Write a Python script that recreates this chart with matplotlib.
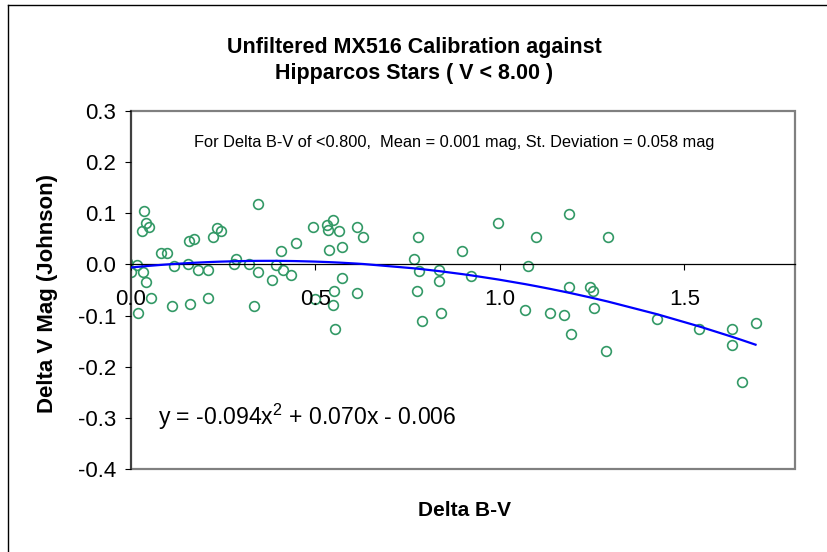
import numpy as np
import matplotlib
matplotlib.use("Agg")
import matplotlib.pyplot as plt
from matplotlib.patches import Rectangle
from matplotlib.lines import Line2D

plt.rcParams['font.family'] = ['Liberation Sans', 'DejaVu Sans']
plt.rcParams['axes.unicode_minus'] = False
plt.rcParams['mathtext.fontset'] = 'custom'
plt.rcParams['mathtext.rm'] = 'Liberation Sans'
plt.rcParams['mathtext.default'] = 'regular'

# Delta B-V (x) and Delta V (y) for each star
delta_bv = [-0.010, 0.000, 0.015, 0.033, 0.041, 0.035, 0.029, 0.041, 0.049, 0.080,
            0.097, 0.117, 0.157, 0.171, 0.154, 0.182, 0.208, 0.223, 0.232, 0.244,
            0.279, 0.285, 0.321, 0.343, 0.344, 0.382, 0.392, 0.407, 0.413, 0.435,
            0.446, 0.493, 0.532, 0.534, 0.548, 0.563, 0.536, 0.571, 0.573, 0.549,
            0.054, 0.020, 0.111, 0.159, 0.208, 0.333, 0.500, 0.548, 0.554, 0.612,
            0.774, 0.834, 0.790, 0.840, 0.613, 0.630, 0.779, 0.766, 0.780, 0.835,
            0.898, 0.922, 0.996, 1.099, 1.077, 1.186, 1.186, 1.293, 1.244, 1.253,
            1.067, 1.135, 1.173, 1.192, 1.255, 1.288, 1.427, 1.541, 1.629, 1.629,
            1.655, 1.693]
delta_v = [0.005, -0.015, -0.002, -0.014, -0.034, 0.105, 0.066, 0.081, 0.073, 0.022,
           0.022, -0.004, 0.046, 0.050, 0.000, -0.010, -0.010, 0.054, 0.071, 0.066,
           0.000, 0.011, 0.001, -0.015, 0.118, -0.030, -0.002, 0.026, -0.010, -0.021,
           0.041, 0.073, 0.077, 0.067, 0.086, 0.066, 0.029, 0.034, -0.026, -0.051,
           -0.065, -0.094, -0.081, -0.078, -0.065, -0.081, -0.067, -0.079, -0.126, -0.055,
           -0.051, -0.033, -0.110, -0.094, 0.073, 0.054, 0.054, 0.010, -0.012, -0.010,
           0.026, -0.022, 0.081, 0.054, -0.003, 0.098, -0.045, 0.054, -0.045, -0.051,
           -0.090, -0.094, -0.098, -0.137, -0.086, -0.169, -0.106, -0.126, -0.126, -0.157,
           -0.230, -0.114]

# quadratic trendline coefficients as printed on the chart
trend_coef = [-0.094, 0.070, -0.006]

xticks = [0.0, 0.5, 1.0, 1.5]
xticklabels = ['0.0', '0.5', '1.0', '1.5']
yticks = [-0.4, -0.3, -0.2, -0.1, 0.0, 0.1, 0.2, 0.3]
yticklabels = ['-0.4', '-0.3', '-0.2', '-0.1', '0.0', '0.1', '0.2', '0.3']

x = np.array(delta_bv)
y = np.array(delta_v)

fig = plt.figure(figsize=(8.28, 5.52), dpi=100)
ax = fig.add_axes([131 / 828, 1 - 469 / 552, 664 / 828, 358 / 552])

ax.plot(x, y, 'o', linestyle='none', markersize=7, markerfacecolor='none',
        markeredgecolor='#339966', markeredgewidth=1.2, zorder=2)

xt = np.sort(x[x >= 0])
ax.plot(xt, np.polyval(trend_coef, xt), color='#0000ff', lw=1.6, zorder=3)

ax.set_xlim(0, 1.8)
ax.set_ylim(-0.4, 0.3)
ax.set_xticks(xticks)
ax.set_xticklabels(xticklabels)
ax.set_yticks(yticks)
ax.set_yticklabels(yticklabels)
ax.set_axisbelow(False)

ax.spines['bottom'].set_position(('data', 0))
ax.spines['bottom'].set_color('black')
ax.spines['bottom'].set_linewidth(0.9)
ax.spines['left'].set_color('#404040')
ax.spines['left'].set_linewidth(1.5)
ax.spines['top'].set_visible(False)
ax.spines['right'].set_visible(False)
ax.add_patch(Rectangle((0, 0), 1, 1, transform=ax.transAxes, fill=False,
                       edgecolor='#808080', lw=1.6, clip_on=False, zorder=0.5))

ax.tick_params(axis='x', direction='out', length=4.5, width=0.8, pad=13,
               labelsize=16, colors='black')
ax.tick_params(axis='y', direction='out', length=4.3, width=0.8, pad=6.5,
               labelsize=16, colors='black')

ax.set_ylabel('Delta V Mag (Johnson)', fontsize=16, fontweight='bold')
ax.yaxis.set_label_coords((58 - 131) / 664, 0.49)

fig.text(464 / 828, 1 - 511 / 552, 'Delta B-V', fontsize=15, fontweight='bold',
         ha='center', va='center')

fig.text(0.5, 1 - 47 / 552, 'Unfiltered MX516 Calibration against',
         fontsize=15.5, fontweight='bold', ha='center', va='center')
fig.text(0.5, 1 - 73 / 552, 'Hipparcos Stars ( V < 8.00 )',
         fontsize=15.5, fontweight='bold', ha='center', va='center')

fig.text(454 / 828, 1 - 143 / 552,
         'For Delta B-V of <0.800,  Mean = 0.001 mag, St. Deviation = 0.058 mag',
         fontsize=11.8, ha='center', va='center')

fig.text(158 / 828, 1 - 417 / 552, 'y = -0.094x$^{2}$ + 0.070x - 0.006',
         fontsize=16.6, ha='left', va='center')

# chart border (only top and left edges visible)
fig.add_artist(Line2D([8 / 828, 1], [1 - 5 / 552, 1 - 5 / 552], color='black', lw=1))
fig.add_artist(Line2D([8 / 828, 8 / 828], [0, 1 - 5 / 552], color='black', lw=1))

fig.savefig('out.png', dpi=100)
